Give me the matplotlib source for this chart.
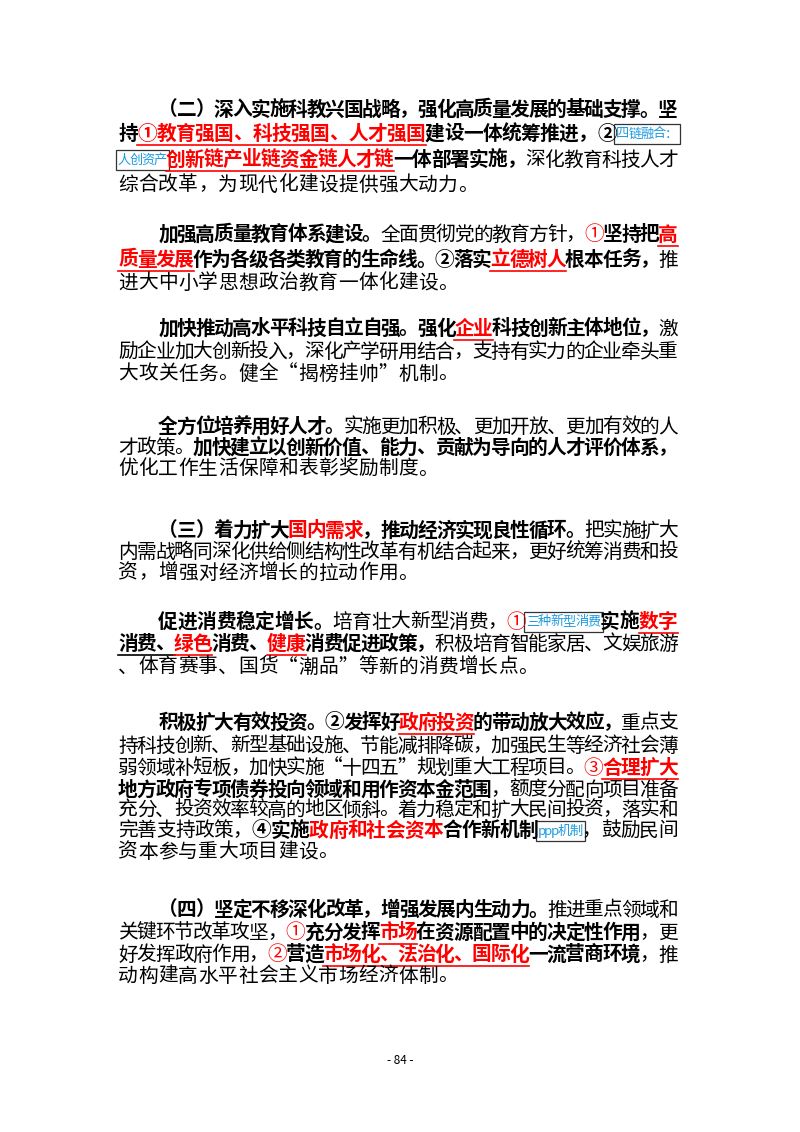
import matplotlib
matplotlib.use("Agg")
import matplotlib.pyplot as plt
from matplotlib.patches import Rectangle

plt.rcParams['font.family'] = ['Noto Sans CJK SC', 'DejaVu Sans']

# style codes: n normal, b bold, r red bold underlined, R red bold, u black bold underlined,
# c red normal, x blue box note
# each line: (y, indent, justify, segments)
lines = [
    (110, 2, True, [("（二）深入实施科教兴国战略，强化高质量发展的基础支撑。坚", "b")]),
    (134, 0, True, [("持", "b"), ("①教育强国、科技强国、人才强国", "r"), ("建设一体统筹推进，", "b"), ("②", "b"), ("四链融合：", "x")]),
    (160, 0, True, [("人创资产", "x"), ("创新链产业链资金链人才链", "r"), ("一体部署实施，", "b"), ("深化教育科技人才", "n")]),
    (185, 0, False, [("综合改革，为现代化建设提供强大动力。", "n")]),
    (235, 2, True, [("加强高质量教育体系建设。", "b"), ("全面贯彻党的教育方针，", "n"), ("①", "c"), ("坚持把", "b"), ("高", "r")]),
    (260, 0, True, [("质量发展", "r"), ("作为各级各类教育的生命线。②落实", "b"), ("立德树人", "r"), ("根本任务，", "b"), ("推", "n")]),
    (283, 0, False, [("进大中小学思想政治教育一体化建设。", "n")]),
    (329, 2, True, [("加快推动高水平科技自立自强。强化", "b"), ("企业", "r"), ("科技创新主体地位，", "b"), ("激", "n")]),
    (352, 0, True, [("励企业加大创新投入，深化产学研用结合，支持有实力的企业牵头重", "n")]),
    (374, 0, False, [("大攻关任务。健全“揭榜挂帅”机制。", "n")]),
    (427, 2, True, [("全方位培养用好人才。", "b"), ("实施更加积极、更加开放、更加有效的人", "n")]),
    (448, 0, True, [("才政策。", "n"), ("加快建立以创新价值、能力、贡献为导向的人才评价体系，", "b")]),
    (469, 0, False, [("优化工作生活保障和表彰奖励制度。", "n")]),
    (531, 2, True, [("（三）着力扩大", "b"), ("国内需求", "R"), ("，推动经济实现良性循环。", "b"), ("把实施扩大", "n")]),
    (552, 0, True, [("内需战略同深化供给侧结构性改革有机结合起来，更好统筹消费和投", "n")]),
    (573, 0, False, [("资，增强对经济增长的拉动作用。", "n")]),
    (622, 2, True, [("促进消费稳定增长。", "b"), ("培育壮大新型消费，", "n"), ("①", "c"), ("三种新型消费", "x"), ("实施", "b"), ("数字", "r")]),
    (644, 0, True, [("消费、", "u"), ("绿色", "r"), ("消费、", "b"), ("健康", "r"), ("消费促进政策，", "b"), ("积极培育智能家居、文娱旅游", "n")]),
    (667, 0, False, [("、体育赛事、国货“潮品”等新的消费增长点。", "n")]),
    (723, 2, True, [("积极扩大有效投资。②发挥好", "b"), ("政府投资", "r"), ("的带动放大效应，", "b"), ("重点支", "n")]),
    (746, 0, True, [("持科技创新、新型基础设施、节能减排降碳，加强民生等经济社会薄", "n")]),
    (768, 0, True, [("弱领域补短板，加快实施“十四五”规划重大工程项目。", "n"), ("③", "c"), ("合理扩大", "r")]),
    (790, 0, True, [("地方政府专项债券投向领域和用作资本金范围", "b"), ("，额度分配向项目准备", "n")]),
    (810, 0, True, [("充分、投资效率较高的地区倾斜。着力稳定和扩大民间投资，落实和", "n")]),
    (831, 0, True, [("完善支持政策，", "n"), ("④实施", "b"), ("政府和社会资本", "R"), ("合作新机制", "b"), ("ppp机制", "x"), ("，鼓励民间", "n")]),
    (852, 0, False, [("资本参与重大项目建设。", "n")]),
    (910, 2, True, [("（四）坚定不移深化改革，增强发展内生动力。", "b"), ("推进重点领域和", "n")]),
    (933, 0, True, [("关键环节改革攻坚，", "n"), ("①", "c"), ("充分发挥", "b"), ("市场", "r"), ("在资源配置中的决定性作用", "b"), ("，更", "n")]),
    (955, 0, True, [("好发挥政府作用，", "n"), ("②", "c"), ("营造", "b"), ("市场化、法治化、国际化", "r"), ("一流营商环境", "b"), ("，推", "n")]),
    (976, 0, False, [("动构建高水平社会主义市场经济体制。", "n")]),
]
footer = "- 84 -"

LEFT, RIGHT, CW = 118, 678, 20.0
RED, BLUE = "#ff0000", "#1e9be0"

fig = plt.figure(figsize=(8, 11.32), dpi=100)
ax = fig.add_axes([0, 0, 1, 1])
ax.set_xlim(0, 800)
ax.set_ylim(1132, 0)
ax.axis("off")


def char_w(ch, style):
    if style == "x":
        return 7.5 if ch.isascii() else 13.0
    return CW


for y, indent, justify, segs in lines:
    chars = [(ch, st) for text, st in segs for ch in text]
    x0 = LEFT + indent * CW
    natural = sum(char_w(c, s) for c, s in chars)
    gap = (RIGHT - x0 - natural) / (len(chars) - 1) if justify and len(chars) > 1 else 0
    x = x0
    pos = []
    for ch, st in chars:
        w = char_w(ch, st)
        pos.append((x, w, ch, st))
        x += w + gap
    for x, w, ch, st in pos:
        cx = x + w / 2
        if st == "x":
            ax.text(cx, y, ch, ha="center", va="center", fontsize=9.5, color=BLUE)
        else:
            color = RED if st in "rRc" else "black"
            weight = "bold" if st in "brRu" else "normal"
            ax.text(cx, y, ch, ha="center", va="center", fontsize=14.2,
                    color=color, fontweight=weight)
    # underlines and boxes per run of one style
    i = 0
    while i < len(pos):
        st = pos[i][3]
        j = i
        while j + 1 < len(pos) and pos[j + 1][3] == st:
            j += 1
        xs, xe = pos[i][0], pos[j][0] + pos[j][1]
        if st in "ru":
            ax.plot([xs, xe], [y + 10.5, y + 10.5], color=RED if st == "r" else "black", lw=1.2)
        elif st == "x":
            ax.add_patch(Rectangle((xs - 2, y - 10), xe - xs + 4, 20,
                                   fill=False, edgecolor="#333333", lw=0.9))
        i = j + 1

ax.text(400, 1060, footer, ha="center", va="center", fontsize=8.5)

fig.savefig("out.png", dpi=100)
